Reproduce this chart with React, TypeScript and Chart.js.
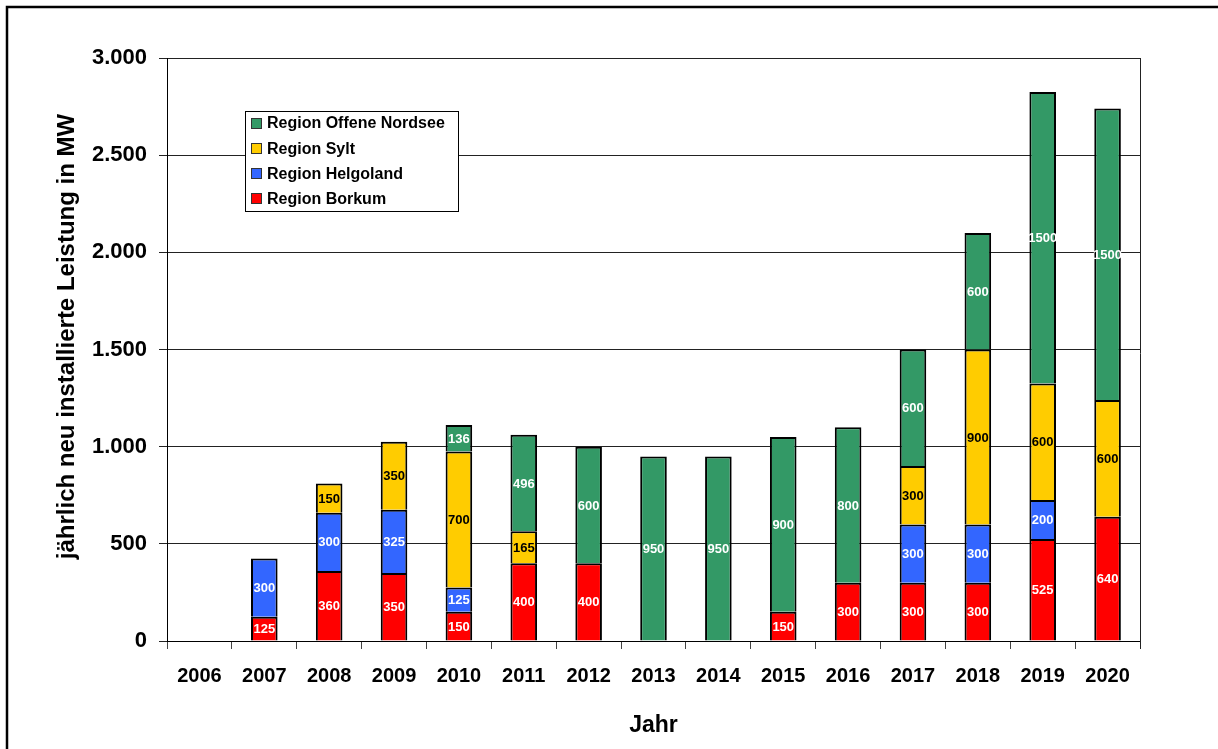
import React, { useEffect, useRef } from "react";
import { Chart, registerables } from "chart.js";

Chart.register(...registerables);

const years = ["2006", "2007", "2008", "2009", "2010", "2011", "2012", "2013", "2014", "2015", "2016", "2017", "2018", "2019", "2020"];
const borkum = [null, 125, 360, 350, 150, 400, 400, null, null, 150, 300, 300, 300, 525, 640];
const helgoland = [null, 300, 300, 325, 125, null, null, null, null, null, null, 300, 300, 200, null];
const sylt = [null, null, 150, 350, 700, 165, null, null, null, null, null, 300, 900, 600, 600];
const offeneNordsee = [null, null, null, null, 136, 496, 600, 950, 950, 900, 800, 600, 600, 1500, 1500];
const yMin = 0;
const yMax = 3000;
const yStep = 500;
const yTitle = "jährlich neu installierte Leistung in MW";
const xTitle = "Jahr";

const FONT = "'Liberation Sans', Arial, sans-serif";

function formatDe(v: number): string {
  const s = String(Math.round(v));
  return s.replace(/\B(?=(\d{3})+(?!\d))/g, ".");
}

const framePlugin = {
  id: "frame",
  beforeDraw(chart: any) {
    const { ctx } = chart;
    ctx.save();
    ctx.fillStyle = "#fff";
    ctx.fillRect(0, 0, chart.width, chart.height);
    ctx.strokeStyle = "#000";
    ctx.lineWidth = 2.5;
    ctx.beginPath();
    ctx.moveTo(7, chart.height + 2);
    ctx.lineTo(7, 7);
    ctx.lineTo(chart.width + 2, 7);
    ctx.stroke();
    ctx.restore();
  },
  afterDraw(chart: any) {
    const { ctx, chartArea } = chart;
    ctx.save();
    ctx.strokeStyle = "#222";
    ctx.lineWidth = 1;
    ctx.beginPath();
    const x = Math.round(chartArea.right) + 0.5;
    ctx.moveTo(x, chartArea.top);
    ctx.lineTo(x, chartArea.bottom + 8);
    ctx.stroke();
    // y axis title
    ctx.translate(67, chartArea.top + (chartArea.bottom - chartArea.top) / 2 - 13);
    ctx.rotate(-Math.PI / 2);
    ctx.fillStyle = "#000";
    ctx.font = `bold 24px ${FONT}`;
    ctx.textAlign = "center";
    ctx.textBaseline = "middle";
    ctx.fillText(yTitle, 0, 0);
    ctx.restore();
  },
};

const valueLabelPlugin = {
  id: "valueLabels",
  afterDatasetsDraw(chart: any) {
    const { ctx } = chart;
    chart.data.datasets.forEach((ds: any, i: number) => {
      const meta = chart.getDatasetMeta(i);
      meta.data.forEach((el: any, j: number) => {
        const v = ds.data[j];
        if (!v) return;
        const { x, y, base } = el.getProps(["x", "y", "base"], true);
        ctx.save();
        ctx.font = `bold 13px ${FONT}`;
        ctx.fillStyle = ds.labelColor;
        ctx.textAlign = "center";
        ctx.textBaseline = "middle";
        ctx.fillText(String(v), x, (y + base) / 2 + 1);
        ctx.restore();
      });
    });
  },
};

const boxLegendPlugin = {
  id: "boxLegend",
  afterDraw(chart: any) {
    const { ctx, chartArea } = chart;
    const x0 = Math.round(chartArea.left + 78);
    const y0 = Math.round(chartArea.top + 53);
    const w = 213;
    const h = 100;
    ctx.save();
    ctx.fillStyle = "#fff";
    ctx.fillRect(x0, y0, w, h);
    ctx.strokeStyle = "#000";
    ctx.lineWidth = 1;
    ctx.strokeRect(x0 + 0.5, y0 + 0.5, w, h);
    const order = [...chart.data.datasets].reverse();
    order.forEach((ds: any, k: number) => {
      const cy = y0 + 12 + k * 25.3;
      ctx.fillStyle = ds.backgroundColor;
      ctx.fillRect(x0 + 6, Math.round(cy - 5.5), 11, 11);
      ctx.strokeStyle = "#333";
      ctx.lineWidth = 1;
      ctx.strokeRect(x0 + 6.5, Math.round(cy - 5.5) + 0.5, 10, 10);
      ctx.fillStyle = "#000";
      ctx.font = `bold 16px ${FONT}`;
      ctx.textAlign = "left";
      ctx.textBaseline = "middle";
      ctx.fillText(ds.label, x0 + 22, cy + 1);
    });
    ctx.restore();
  },
};

export default function App() {
  const canvasRef = useRef<HTMLCanvasElement | null>(null);

  useEffect(() => {
    if (!canvasRef.current) return;
    const mk = (label: string, data: (number | null)[], color: string, labelColor: string) => ({
      label,
      data,
      backgroundColor: color,
      borderColor: "#000",
      borderWidth: 2,
      borderSkipped: "start",
      labelColor,
      categoryPercentage: 1,
      barPercentage: 0.41,
    });
    const chart = new Chart(canvasRef.current, {
      type: "bar",
      data: {
        labels: years,
        datasets: [
          mk("Region Borkum", borkum, "#FF0000", "#fff"),
          mk("Region Helgoland", helgoland, "#3366FF", "#fff"),
          mk("Region Sylt", sylt, "#FFCC00", "#000"),
          mk("Region Offene Nordsee", offeneNordsee, "#339966", "#fff"),
        ] as any,
      },
      options: {
        responsive: false,
        animation: false,
        layout: { padding: { left: 0, top: 58, right: 78, bottom: 0 } },
        plugins: {
          legend: { display: false },
          tooltip: { enabled: false },
          title: { display: false },
        },
        scales: {
          x: {
            stacked: true,
            afterFit: (s: any) => {
              s.height = 108;
            },
            grid: {
              offset: true,
              drawOnChartArea: false,
              drawTicks: true,
              tickLength: 8,
              color: "#444",
            },
            border: { display: true, color: "#000", width: 1 },
            ticks: {
              color: "#000",
              font: { family: FONT, size: 20, weight: "bold" },
              padding: 15,
              maxRotation: 0,
              autoSkip: false,
            },
            title: {
              display: true,
              text: xTitle,
              color: "#000",
              font: { family: FONT, size: 23, weight: "bold" },
              padding: { top: 0, bottom: 10 },
            },
          },
          y: {
            stacked: true,
            min: yMin,
            max: yMax,
            afterFit: (s: any) => {
              s.width = 167;
            },
            grid: {
              color: "#222",
              drawTicks: true,
              tickLength: 8,
              lineWidth: 1,
            },
            border: { display: true, color: "#000", width: 1 },
            ticks: {
              stepSize: yStep,
              color: "#000",
              font: { family: FONT, size: 22, weight: "bold" },
              padding: 12,
              callback: (v: any) => formatDe(Number(v)),
            },
            title: { display: false },
          },
        },
      } as any,
      plugins: [framePlugin, valueLabelPlugin, boxLegendPlugin],
    });
    return () => chart.destroy();
  }, []);

  return (
    <canvas
      ref={canvasRef}
      width={1218}
      height={749}
      style={{ position: "fixed", left: 0, top: 0, width: 1218, height: 749, display: "block" }}
    />
  );
}
